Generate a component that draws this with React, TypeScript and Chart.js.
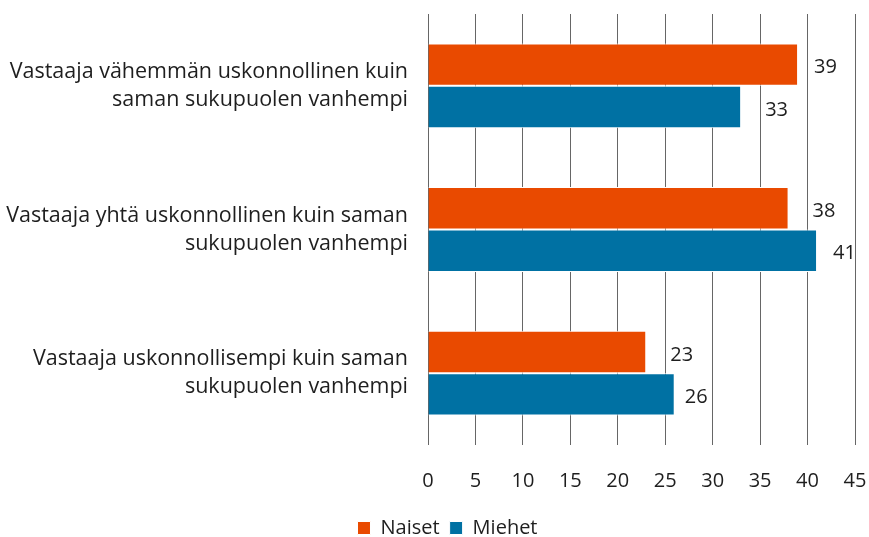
import React, { useEffect, useRef } from "react";
import { Chart, registerables } from "chart.js";

Chart.register(...registerables);

const categories: string[][] = [
  ["Vastaaja vähemmän uskonnollinen kuin", "saman sukupuolen vanhempi"],
  ["Vastaaja yhtä uskonnollinen kuin saman", "sukupuolen vanhempi"],
  ["Vastaaja uskonnollisempi kuin saman", "sukupuolen vanhempi"],
];
const naiset: number[] = [39, 38, 23];
const miehet: number[] = [33, 41, 26];
const seriesNames = ["Naiset", "Miehet"];
const xTicks = { min: 0, max: 45, step: 5 };

const FONT = "'Open Sans', sans-serif";
const TEXT = "#1e1e1e";

// value labels placed right of bar ends, nudged so they do not sit on an inner gridline
const valueLabels = {
  id: "valueLabels",
  afterDatasetsDraw(chart: any) {
    const ctx = chart.ctx;
    const xs = chart.scales.x;
    const gridX: number[] = xs.ticks
      .slice(0, -1)
      .map((_: any, k: number) => xs.getPixelForTick(k));
    ctx.save();
    ctx.font = `20px ${FONT}`;
    ctx.fillStyle = TEXT;
    ctx.textAlign = "left";
    ctx.textBaseline = "middle";
    const pref = 16;
    const margin = 5;
    chart.data.datasets.forEach((ds: any, i: number) => {
      const meta = chart.getDatasetMeta(i);
      meta.data.forEach((bar: any, j: number) => {
        const txt = String(ds.data[j]);
        const w = ctx.measureText(txt).width;
        let best = pref;
        let bestD = Infinity;
        for (let off = 8; off <= 40; off++) {
          const x0 = bar.x + off;
          const clash = gridX.some((g) => g > x0 - margin && g < x0 + w + margin);
          if (!clash && Math.abs(off - pref) < bestD) {
            bestD = Math.abs(off - pref);
            best = off;
          }
        }
        ctx.fillText(txt, bar.x + best, bar.y + 3);
      });
    });
    ctx.restore();
  },
};

const shiftLegend = {
  id: "shiftLegend",
  afterLayout(chart: any) {
    const lg = chart.legend;
    if (lg) {
      lg.left += 20;
      lg.right += 20;
    }
  },
};

export default function App() {
  const ref = useRef<HTMLCanvasElement>(null);
  useEffect(() => {
    const chart = new Chart(ref.current!, {
      type: "bar",
      data: {
        labels: categories,
        datasets: [
          {
            label: seriesNames[0],
            data: naiset,
            backgroundColor: "#e94a00",
            borderColor: "#ffffff",
            borderWidth: 1,
            barPercentage: 1,
            categoryPercentage: 0.59,
          },
          {
            label: seriesNames[1],
            data: miehet,
            backgroundColor: "#0071a3",
            borderColor: "#ffffff",
            borderWidth: 1,
            barPercentage: 1,
            categoryPercentage: 0.59,
          },
        ],
      },
      options: {
        indexAxis: "y",
        animation: false,
        responsive: false,
        maintainAspectRatio: false,
        layout: { padding: { top: 14, right: 14, left: 0, bottom: -11 } },
        scales: {
          x: {
            min: xTicks.min,
            max: xTicks.max,
            ticks: {
              stepSize: xTicks.step,
              color: TEXT,
              font: { family: FONT, size: 20 },
              padding: 24,
            },
            grid: { color: "#666666", lineWidth: 1, drawTicks: false },
            border: { display: false },
            afterFit: (s: any) => {
              s.height = 63;
              s.paddingLeft = 0;
              s.paddingRight = 0;
            },
          },
          y: {
            ticks: {
              color: TEXT,
              font: { family: FONT, size: 21.5, lineHeight: 1.3 },
              padding: 20,
            },
            grid: { display: false, drawTicks: false },
            border: { display: false },
            afterFit: (s: any) => {
              s.width = 428;
              s.paddingTop = 0;
              s.paddingBottom = 0;
            },
          },
        },
        plugins: {
          legend: {
            position: "bottom",
            labels: {
              color: TEXT,
              font: { family: FONT, size: 20 },
              boxWidth: 13,
              boxHeight: 13,
              padding: 10,
              useBorderRadius: false,
            },
          },
          tooltip: { enabled: false },
        },
      },
      plugins: [valueLabels, shiftLegend],
    });
    return () => chart.destroy();
  }, []);
  return (
    <div style={{ position: "fixed", left: 0, top: 0, width: 869, height: 537 }}>
      <canvas ref={ref} width={869} height={537} style={{ width: 869, height: 537 }} />
    </div>
  );
}
